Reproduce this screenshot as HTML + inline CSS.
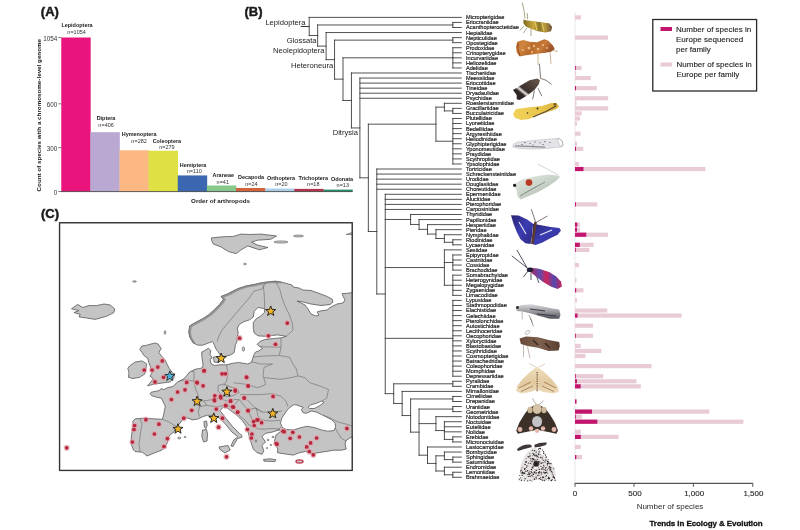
<!DOCTYPE html>
<html><head><meta charset="utf-8"><title>Lepidoptera genomes figure</title>
<style>
html,body{margin:0;padding:0;background:#fff;width:800px;height:530px;overflow:hidden}
svg{display:block;font-family:"Liberation Sans",Arial,sans-serif}
</style></head><body>
<svg width="800" height="530" viewBox="0 0 800 530">
<rect width="800" height="530" fill="#fff"/>

<text x="40.8" y="16.4" font-size="13" font-weight="bold" fill="#1a1a1a" stroke="#1a1a1a" stroke-width="0.45">(A)</text>
<rect x="61.25" y="37.5" width="29.43" height="154" fill="#e9147c"/>
<text x="77" y="26.9" font-size="5.45" font-weight="bold" text-anchor="middle" fill="#1a1a1a">Lepidoptera</text>
<text x="76.6" y="34.45" font-size="5.5" text-anchor="middle" fill="#333">n=1054</text>
<rect x="90.38" y="132.18" width="29.43" height="59.32" fill="#b9a8d2"/>
<text x="106" y="120.45" font-size="5.45" font-weight="bold" text-anchor="middle" fill="#1a1a1a">Diptera</text>
<text x="106.1" y="126.95" font-size="5.5" text-anchor="middle" fill="#333">n=406</text>
<rect x="119.5" y="150.3" width="29.43" height="41.2" fill="#fbb883"/>
<text x="139.1" y="135.9" font-size="5.45" font-weight="bold" text-anchor="middle" fill="#1a1a1a">Hymenoptera</text>
<text x="139.1" y="142.7" font-size="5.5" text-anchor="middle" fill="#333">n=282</text>
<rect x="148.62" y="150.74" width="29.43" height="40.76" fill="#dee043"/>
<text x="166.9" y="142.65" font-size="5.45" font-weight="bold" text-anchor="middle" fill="#1a1a1a">Coleoptera</text>
<text x="166.9" y="148.7" font-size="5.5" text-anchor="middle" fill="#333">n=279</text>
<rect x="177.75" y="175.43" width="29.43" height="16.07" fill="#3b67b1"/>
<text x="193.1" y="166.65" font-size="5.45" font-weight="bold" text-anchor="middle" fill="#1a1a1a">Hemiptera</text>
<text x="194.25" y="173.45" font-size="5.5" text-anchor="middle" fill="#333">n=110</text>
<rect x="206.88" y="185.51" width="29.43" height="5.99" fill="#86c98a"/>
<text x="223.3" y="176.65" font-size="5.45" font-weight="bold" text-anchor="middle" fill="#1a1a1a">Araneae</text>
<text x="222.8" y="183.85" font-size="5.5" text-anchor="middle" fill="#333">n=41</text>
<rect x="236" y="187.99" width="29.43" height="3.51" fill="#d1643c"/>
<text x="251" y="179.1" font-size="5.45" font-weight="bold" text-anchor="middle" fill="#1a1a1a">Decapoda</text>
<text x="251.4" y="185.7" font-size="5.5" text-anchor="middle" fill="#333">n=24</text>
<rect x="265.12" y="188.58" width="29.43" height="2.92" fill="#a9cde9"/>
<text x="281" y="180.4" font-size="5.45" font-weight="bold" text-anchor="middle" fill="#1a1a1a">Orthoptera</text>
<text x="281.4" y="186.25" font-size="5.5" text-anchor="middle" fill="#333">n=20</text>
<rect x="294.25" y="188.87" width="29.43" height="2.63" fill="#b3344f"/>
<text x="313.2" y="180.4" font-size="5.45" font-weight="bold" text-anchor="middle" fill="#1a1a1a">Trichoptera</text>
<text x="313.3" y="186.25" font-size="5.5" text-anchor="middle" fill="#333">n=18</text>
<rect x="323.38" y="189.6" width="29.43" height="1.9" fill="#22906a"/>
<text x="342" y="181.3" font-size="5.45" font-weight="bold" text-anchor="middle" fill="#1a1a1a">Odonata</text>
<text x="342.8" y="187.2" font-size="5.5" text-anchor="middle" fill="#333">n=13</text>
<path d="M61 191.6H352.6" stroke="#333" stroke-width="0.8"/>
<path d="M58.3 37.5H61.3" stroke="#444" stroke-width="0.7"/>
<text x="57.2" y="41" font-size="6.3" text-anchor="end" fill="#333">1054</text>
<path d="M58.3 103.83H61.3" stroke="#444" stroke-width="0.7"/>
<text x="57.2" y="107.33" font-size="6.3" text-anchor="end" fill="#333">600</text>
<path d="M58.3 147.67H61.3" stroke="#444" stroke-width="0.7"/>
<text x="57.2" y="151.17" font-size="6.3" text-anchor="end" fill="#333">300</text>
<path d="M58.3 191.5H61.3" stroke="#444" stroke-width="0.7"/>
<text x="57.2" y="195" font-size="6.3" text-anchor="end" fill="#333">0</text>
<text transform="translate(40.6 115.2) rotate(-90)" font-size="6.25" font-weight="bold" text-anchor="middle" fill="#1a1a1a">Count of species with a chromosome-level genome</text>
<text x="220.5" y="202.9" font-size="6.2" font-weight="bold" text-anchor="middle" fill="#1a1a1a">Order of arthropods</text>
<text x="244.5" y="16" font-size="13" font-weight="bold" fill="#1a1a1a" stroke="#1a1a1a" stroke-width="0.45">(B)</text>
<path d="M309.2 17.4H461.3 M452.85 22.45H461.3 M452.85 27.51H461.3 M452.85 22.45V27.51 M317.65 24.98H452.85 M326.1 32.56H461.3 M452.85 37.62H461.3 M452.85 42.67H461.3 M452.85 37.62V42.67 M334.55 40.14H452.85 M452.85 47.72H461.3 M452.85 52.78H461.3 M452.85 57.83H461.3 M452.85 62.89H461.3 M452.85 67.94H461.3 M452.85 47.72V67.94 M343 57.83H452.85 M351.45 72.99H461.3 M359.9 78.05H461.3 M359.9 83.1H461.3 M359.9 88.16H461.3 M359.9 93.21H461.3 M359.9 98.26H461.3 M444.4 103.32H461.3 M452.85 108.37H461.3 M452.85 113.43H461.3 M452.85 108.37V113.43 M444.4 110.9H452.85 M444.4 103.32V110.9 M435.95 107.11H444.4 M452.85 118.48H461.3 M452.85 123.53H461.3 M452.85 128.59H461.3 M452.85 133.64H461.3 M452.85 138.7H461.3 M452.85 143.75H461.3 M452.85 148.8H461.3 M452.85 153.86H461.3 M452.85 158.91H461.3 M452.85 163.97H461.3 M452.85 118.48V163.97 M435.95 141.22H452.85 M435.95 107.11V141.22 M368.35 124.17H435.95 M376.8 169.02H461.3 M376.8 174.07H461.3 M376.8 179.13H461.3 M376.8 184.18H461.3 M376.8 189.24H461.3 M385.25 194.29H461.3 M385.25 199.34H461.3 M385.25 204.4H461.3 M385.25 209.45H461.3 M410.6 214.51H461.3 M419.05 219.56H461.3 M427.5 224.61H461.3 M435.95 229.67H461.3 M444.4 234.72H461.3 M452.85 239.78H461.3 M452.85 244.83H461.3 M452.85 239.78V244.83 M444.4 242.3H452.85 M444.4 234.72V242.3 M435.95 238.51H444.4 M435.95 229.67V238.51 M427.5 234.09H435.95 M427.5 224.61V234.09 M419.05 229.35H427.5 M419.05 219.56V229.35 M410.6 224.46H419.05 M410.6 214.51V224.46 M385.25 219.48H410.6 M444.4 249.88H461.3 M452.85 254.94H461.3 M452.85 259.99H461.3 M452.85 265.05H461.3 M452.85 270.1H461.3 M452.85 254.94V270.1 M444.4 262.52H452.85 M452.85 275.15H461.3 M452.85 280.21H461.3 M452.85 285.26H461.3 M452.85 290.32H461.3 M452.85 295.37H461.3 M452.85 275.15V295.37 M444.4 285.26H452.85 M444.4 249.88V285.26 M385.25 267.57H444.4 M452.85 300.42H461.3 M452.85 305.48H461.3 M452.85 310.53H461.3 M452.85 315.59H461.3 M452.85 320.64H461.3 M452.85 325.69H461.3 M452.85 330.75H461.3 M452.85 335.8H461.3 M452.85 340.86H461.3 M452.85 345.91H461.3 M452.85 350.96H461.3 M452.85 356.02H461.3 M452.85 361.07H461.3 M452.85 366.13H461.3 M452.85 371.18H461.3 M452.85 376.23H461.3 M452.85 300.42V376.23 M385.25 338.33H452.85 M452.85 381.29H461.3 M452.85 386.34H461.3 M452.85 381.29V386.34 M393.7 383.81H452.85 M402.15 391.4H461.3 M452.85 396.45H461.3 M452.85 401.5H461.3 M452.85 396.45V401.5 M410.6 398.98H452.85 M452.85 406.56H461.3 M452.85 411.61H461.3 M452.85 406.56V411.61 M419.05 409.09H452.85 M435.95 416.67H461.3 M444.4 421.72H461.3 M444.4 426.77H461.3 M444.4 431.83H461.3 M452.85 436.88H461.3 M452.85 441.94H461.3 M452.85 436.88V441.94 M444.4 439.41H452.85 M444.4 421.72V439.41 M435.95 430.56H444.4 M435.95 416.67V430.56 M419.05 423.62H435.95 M427.5 446.99H461.3 M444.4 452.04H461.3 M452.85 457.1H461.3 M452.85 462.15H461.3 M452.85 457.1V462.15 M444.4 459.62H452.85 M444.4 452.04V459.62 M435.95 455.83H444.4 M444.4 467.21H461.3 M452.85 472.26H461.3 M452.85 477.31H461.3 M452.85 472.26V477.31 M444.4 474.79H452.85 M444.4 467.21V474.79 M435.95 471H444.4 M435.95 455.83V471 M427.5 463.42H435.95 M427.5 446.99V463.42 M419.05 455.2H427.5 M419.05 409.09V455.2 M410.6 432.14H419.05 M410.6 398.98V432.14 M402.15 415.56H410.6 M402.15 391.4V415.56 M393.7 403.48H402.15 M393.7 383.81V403.48 M385.25 393.65H393.7 M385.25 194.29V393.65 M376.8 293.97H385.25 M376.8 169.02V293.97 M368.35 231.49H376.8 M368.35 124.17V231.49 M359.9 177.83H368.35 M359.9 78.05V177.83 M351.45 127.94H359.9 M351.45 72.99V127.94 M343 100.47H351.45 M343 57.83V100.47 M334.55 79.15H343 M334.55 40.14V79.15 M326.1 59.65H334.55 M326.1 32.56V59.65 M317.65 46.1H326.1 M317.65 24.98V46.1 M309.2 35.54H317.65 M309.2 17.4V35.54 M301.2 26.47H309.2" stroke="#333" stroke-width="0.85" fill="none" stroke-linecap="square"/>
<text x="305.5" y="25.2" font-size="7.6" text-anchor="end" fill="#1a1a1a">Lepidoptera</text>
<text x="316.6" y="42.8" font-size="7.6" text-anchor="end" fill="#1a1a1a">Glossata</text>
<text x="324.6" y="52.6" font-size="7.6" text-anchor="end" fill="#1a1a1a">Neolepidoptera</text>
<text x="333.2" y="67.5" font-size="7.6" text-anchor="end" fill="#1a1a1a">Heteroneura</text>
<text x="358" y="135.4" font-size="7.6" text-anchor="end" fill="#1a1a1a">Ditrysia</text>
<path d="M301.2 26.5H309" stroke="#333" stroke-width="0.85"/>
<g font-size="5.6" fill="#1a1a1a" stroke="#1a1a1a" stroke-width="0.18"><text x="466" y="19.35">Micropterigidae</text>
<text x="466" y="24.4">Eriocraniidae</text>
<text x="466" y="29.46">Acanthopteroctetidae</text>
<text x="466" y="34.51">Hepialidae</text>
<text x="466" y="39.57">Nepticulidae</text>
<text x="466" y="44.62">Opostegidae</text>
<text x="466" y="49.67">Prodoxidae</text>
<text x="466" y="54.73">Crinopterygidae</text>
<text x="466" y="59.78">Incurvariidae</text>
<text x="466" y="64.84">Heliozelidae</text>
<text x="466" y="69.89">Adelidae</text>
<text x="466" y="74.94">Tischeriidae</text>
<text x="466" y="80">Meessiidae</text>
<text x="466" y="85.05">Eriocottidae</text>
<text x="466" y="90.11">Tineidae</text>
<text x="466" y="95.16">Dryadaulidae</text>
<text x="466" y="100.21">Psychidae</text>
<text x="466" y="105.27">Roeslerstammiidae</text>
<text x="466" y="110.32">Gracillariidae</text>
<text x="466" y="115.38">Bucculatricidae</text>
<text x="466" y="120.43">Plutellidae</text>
<text x="466" y="125.48">Lyonetiidae</text>
<text x="466" y="130.54">Bedelliidae</text>
<text x="466" y="135.59">Argyresthiidae</text>
<text x="466" y="140.65">Heliodinidae</text>
<text x="466" y="145.7">Glyphipterigidae</text>
<text x="466" y="150.75">Yponomeutidae</text>
<text x="466" y="155.81">Praydidae</text>
<text x="466" y="160.86">Scythropiidae</text>
<text x="466" y="165.92">Ypsolophidae</text>
<text x="466" y="170.97">Tortricidae</text>
<text x="466" y="176.02">Schreckensteiniidae</text>
<text x="466" y="181.08">Urodidae</text>
<text x="466" y="186.13">Douglasiidae</text>
<text x="466" y="191.19">Choreutidae</text>
<text x="466" y="196.24">Epermeniidae</text>
<text x="466" y="201.29">Alucitidae</text>
<text x="466" y="206.35">Pterophoridae</text>
<text x="466" y="211.4">Carposinidae</text>
<text x="466" y="216.46">Thyrididae</text>
<text x="466" y="221.51">Papilionidae</text>
<text x="466" y="226.56">Hesperiidae</text>
<text x="466" y="231.62">Pieridae</text>
<text x="466" y="236.67">Nymphalidae</text>
<text x="466" y="241.73">Riodinidae</text>
<text x="466" y="246.78">Lycaenidae</text>
<text x="466" y="251.83">Sesiidae</text>
<text x="466" y="256.89">Epipyropidae</text>
<text x="466" y="261.94">Castniidae</text>
<text x="466" y="267">Cossidae</text>
<text x="466" y="272.05">Brachodidae</text>
<text x="466" y="277.1">Somabrachyidae</text>
<text x="466" y="282.16">Heterogynidae</text>
<text x="466" y="287.21">Megalopygidae</text>
<text x="466" y="292.27">Zygaenidae</text>
<text x="466" y="297.32">Limacodidae</text>
<text x="466" y="302.37">Lypusidae</text>
<text x="466" y="307.43">Stathmopodidae</text>
<text x="466" y="312.48">Elachistidae</text>
<text x="466" y="317.54">Gelechiidae</text>
<text x="466" y="322.59">Pterolonchidae</text>
<text x="466" y="327.64">Autostichidae</text>
<text x="466" y="332.7">Lecithoceridae</text>
<text x="466" y="337.75">Oecophoridae</text>
<text x="466" y="342.81">Xyloryctidae</text>
<text x="466" y="347.86">Blastobasidae</text>
<text x="466" y="352.91">Scythrididae</text>
<text x="466" y="357.97">Cosmopterigidae</text>
<text x="466" y="363.02">Batrachedridae</text>
<text x="466" y="368.08">Coleophoridae</text>
<text x="466" y="373.13">Momphidae</text>
<text x="466" y="378.18">Depressariidae</text>
<text x="466" y="383.24">Pyralidae</text>
<text x="466" y="388.29">Crambidae</text>
<text x="466" y="393.35">Mimallonidae</text>
<text x="466" y="398.4">Cimeliidae</text>
<text x="466" y="403.45">Drepanidae</text>
<text x="466" y="408.51">Uraniidae</text>
<text x="466" y="413.56">Geometridae</text>
<text x="466" y="418.62">Notodontidae</text>
<text x="466" y="423.67">Noctuidae</text>
<text x="466" y="428.72">Euteliidae</text>
<text x="466" y="433.78">Nolidae</text>
<text x="466" y="438.83">Erebidae</text>
<text x="466" y="443.89">Micronoctuidae</text>
<text x="466" y="448.94">Lasiocampidae</text>
<text x="466" y="453.99">Bombycidae</text>
<text x="466" y="459.05">Sphingidae</text>
<text x="466" y="464.1">Saturniidae</text>
<text x="466" y="469.16">Endromidae</text>
<text x="466" y="474.21">Lemoniidae</text>
<text x="466" y="479.26">Brahmaeidae</text></g>
<path d="M575 12V483" stroke="#d8d8d8" stroke-width="0.6"/>
<rect x="575" y="15.3" width="6" height="4.2" fill="#e9cbd7"/>
<rect x="575" y="35.52" width="33" height="4.2" fill="#e9cbd7"/>
<rect x="575" y="65.84" width="6.6" height="4.2" fill="#e9cbd7"/>
<rect x="575" y="65.84" width="0.8" height="4.2" fill="#c2166e"/>
<rect x="575" y="75.95" width="15.8" height="4.2" fill="#e9cbd7"/>
<rect x="575" y="86.06" width="21.8" height="4.2" fill="#e9cbd7"/>
<rect x="575" y="86.06" width="1" height="4.2" fill="#c2166e"/>
<rect x="575" y="96.16" width="33.2" height="4.2" fill="#e9cbd7"/>
<rect x="575" y="106.27" width="33.2" height="4.2" fill="#e9cbd7"/>
<rect x="575" y="111.33" width="6.7" height="4.2" fill="#e9cbd7"/>
<rect x="575" y="116.38" width="5" height="4.2" fill="#e9cbd7"/>
<rect x="575" y="121.43" width="2" height="4.2" fill="#e9cbd7"/>
<rect x="575" y="131.54" width="5.6" height="4.2" fill="#e9cbd7"/>
<rect x="575" y="141.65" width="2" height="4.2" fill="#e9cbd7"/>
<rect x="575" y="146.7" width="8.3" height="4.2" fill="#e9cbd7"/>
<rect x="575" y="146.7" width="1" height="4.2" fill="#c2166e"/>
<rect x="575" y="161.87" width="4" height="4.2" fill="#e9cbd7"/>
<rect x="575" y="166.92" width="130.4" height="4.2" fill="#e9cbd7"/>
<rect x="575" y="166.92" width="8.5" height="4.2" fill="#c2166e"/>
<rect x="575" y="202.3" width="22.3" height="4.2" fill="#e9cbd7"/>
<rect x="575" y="202.3" width="1" height="4.2" fill="#c2166e"/>
<rect x="575" y="222.51" width="5" height="4.2" fill="#e9cbd7"/>
<rect x="575" y="222.51" width="2.3" height="4.2" fill="#c2166e"/>
<rect x="575" y="227.57" width="5" height="4.2" fill="#e9cbd7"/>
<rect x="575" y="227.57" width="2" height="4.2" fill="#c2166e"/>
<rect x="575" y="232.62" width="32.9" height="4.2" fill="#e9cbd7"/>
<rect x="575" y="232.62" width="11.3" height="4.2" fill="#c2166e"/>
<rect x="575" y="242.73" width="18.6" height="4.2" fill="#e9cbd7"/>
<rect x="575" y="242.73" width="4.8" height="4.2" fill="#c2166e"/>
<rect x="575" y="247.78" width="14.5" height="4.2" fill="#e9cbd7"/>
<rect x="575" y="247.78" width="0.8" height="4.2" fill="#c2166e"/>
<rect x="575" y="262.95" width="4" height="4.2" fill="#e9cbd7"/>
<rect x="575" y="278.11" width="1.5" height="4.2" fill="#e9cbd7"/>
<rect x="575" y="288.22" width="8.5" height="4.2" fill="#e9cbd7"/>
<rect x="575" y="288.22" width="1.2" height="4.2" fill="#c2166e"/>
<rect x="575" y="298.32" width="2" height="4.2" fill="#e9cbd7"/>
<rect x="575" y="308.43" width="32.3" height="4.2" fill="#e9cbd7"/>
<rect x="575" y="313.49" width="106.6" height="4.2" fill="#e9cbd7"/>
<rect x="575" y="313.49" width="2.5" height="4.2" fill="#c2166e"/>
<rect x="575" y="323.59" width="18" height="4.2" fill="#e9cbd7"/>
<rect x="575" y="333.7" width="18" height="4.2" fill="#e9cbd7"/>
<rect x="575" y="333.7" width="0.8" height="4.2" fill="#c2166e"/>
<rect x="575" y="343.81" width="5.7" height="4.2" fill="#e9cbd7"/>
<rect x="575" y="348.86" width="26.4" height="4.2" fill="#e9cbd7"/>
<rect x="575" y="353.92" width="10.4" height="4.2" fill="#e9cbd7"/>
<rect x="575" y="364.03" width="76.5" height="4.2" fill="#e9cbd7"/>
<rect x="575" y="374.13" width="28.3" height="4.2" fill="#e9cbd7"/>
<rect x="575" y="374.13" width="0.8" height="4.2" fill="#c2166e"/>
<rect x="575" y="379.19" width="61.5" height="4.2" fill="#e9cbd7"/>
<rect x="575" y="379.19" width="2" height="4.2" fill="#c2166e"/>
<rect x="575" y="384.24" width="65.8" height="4.2" fill="#e9cbd7"/>
<rect x="575" y="384.24" width="5.7" height="4.2" fill="#c2166e"/>
<rect x="575" y="399.4" width="1.5" height="4.2" fill="#e9cbd7"/>
<rect x="575" y="399.4" width="1.5" height="4.2" fill="#c2166e"/>
<rect x="575" y="409.51" width="134.4" height="4.2" fill="#e9cbd7"/>
<rect x="575" y="409.51" width="17" height="4.2" fill="#c2166e"/>
<rect x="575" y="414.57" width="6.9" height="4.2" fill="#e9cbd7"/>
<rect x="575" y="414.57" width="0.8" height="4.2" fill="#c2166e"/>
<rect x="575" y="419.62" width="168.4" height="4.2" fill="#e9cbd7"/>
<rect x="575" y="419.62" width="22.3" height="4.2" fill="#c2166e"/>
<rect x="575" y="429.73" width="5.7" height="4.2" fill="#e9cbd7"/>
<rect x="575" y="434.78" width="43.6" height="4.2" fill="#e9cbd7"/>
<rect x="575" y="434.78" width="5.8" height="4.2" fill="#c2166e"/>
<rect x="575" y="444.89" width="5.7" height="4.2" fill="#e9cbd7"/>
<rect x="575" y="455" width="7" height="4.2" fill="#e9cbd7"/>
<rect x="575" y="455" width="1.3" height="4.2" fill="#c2166e"/>
<rect x="575" y="70.89" width="1.2" height="4.2" fill="#e9cbd7"/>
<rect x="575" y="101.22" width="1.5" height="4.2" fill="#e9cbd7"/>
<path d="M575 483.4H752.8" stroke="#555" stroke-width="1.2"/>
<path d="M575 483V486.8" stroke="#555" stroke-width="1"/>
<text x="575" y="496.3" font-size="8" text-anchor="middle" fill="#222" stroke="#222" stroke-width="0.1">0</text>
<path d="M634 483V486.8" stroke="#555" stroke-width="1"/>
<text x="635" y="496.3" font-size="8" text-anchor="middle" fill="#222" stroke="#222" stroke-width="0.1">500</text>
<path d="M693.4 483V486.8" stroke="#555" stroke-width="1"/>
<text x="694.2" y="496.3" font-size="8" text-anchor="middle" fill="#222" stroke="#222" stroke-width="0.1">1,000</text>
<path d="M752.8 483V486.8" stroke="#555" stroke-width="1"/>
<text x="753.4" y="496.3" font-size="8" text-anchor="middle" fill="#222" stroke="#222" stroke-width="0.1">1,500</text>
<text x="670" y="509.4" font-size="8" text-anchor="middle" fill="#2a2a2a">Number of species</text>
<rect x="652.8" y="19.5" width="103.8" height="71.5" fill="#fff" stroke="#2a2a2a" stroke-width="1.3"/>
<rect x="660.5" y="27" width="11.5" height="4" fill="#c2166e"/>
<rect x="660.5" y="62.5" width="11.5" height="4" fill="#e9cbd7"/>
<g font-size="8" fill="#1e1e1e" stroke="#1e1e1e" stroke-width="0.12"><text x="676" y="31.6">Number of species in</text><text x="676" y="41.6">Europe sequenced</text><text x="676" y="51.6">per family</text><text x="676.5" y="66.6">Number of species in</text><text x="676.5" y="76.6">Europe per family</text></g>
<text x="41" y="218.3" font-size="13" font-weight="bold" fill="#1a1a1a" stroke="#1a1a1a" stroke-width="0.45">(C)</text>
<rect x="59.6" y="222.8" width="292.6" height="247.6" fill="#c4c4c4"/>
<g stroke="#6a6a6a" stroke-width="0.6" fill="none" stroke-linejoin="round"><polyline points="266,282.5 262,289 254,291 250,297 244,304 238,311 232,318 227,324 222,330 219,336 217,341.5"/><polyline points="263,285 264,292 264.5,300 264.6,308.5"/><polyline points="276,282 280,290 282,298 285,306 289,314 292,322 293,330 286.3,336.3"/><polyline points="281,337.7 281,347 279.3,355.5 289.5,357.2 292.9,364 296.3,369 298,375.9"/><polyline points="259,346.5 268,347 281,347"/><polyline points="253,357 264,356 279.3,355.5"/><polyline points="250.4,361.4 260.6,364 272.5,364"/><polyline points="272.5,364 264,367.4 263.1,375.9 265.7,384.4 262.3,386.1"/><polyline points="264,377.6 281,379.3 291.2,377.6 298,375.9"/><polyline points="298,375.9 304.8,377.6 309.8,382.7 320,386.1 328.5,389.5 326.8,398 321.7,401.4"/><polyline points="233.4,382.7 247,384.4 257.2,387.8 262.3,386.1"/><polyline points="240.2,394.6 255.5,394.6 258.9,394.6 272.5,393.7 281,396.3 286.1,401.4 287.8,406.5"/><polyline points="247,399.7 255.5,408.2 262,412 272,412.5 282,411"/><polyline points="226.5,364.2 227.9,374.1 226.5,381.2 223.6,385.5"/><polyline points="218,385.5 223.6,384 230.7,386.9 236.4,388.3 239.2,392.5 233.5,395.4 227.9,396.8 222.2,395.4 218,391.1 218,385.5"/><polyline points="203.8,401 212.3,399.6 219.4,398.2 226.5,401 233.5,399.6 239.2,399.6"/><polyline points="206.7,405.3 216.6,406.7 225.1,405.3 232,407 239.2,399.6"/><polyline points="194,381.2 195.4,388.3 198.2,395.4 199.6,401"/><polyline points="178.4,381.2 185.5,379.8 194,381.2"/><polyline points="190.5,371.5 194,371.3 194,377 194,381.2"/><polyline points="195.4,399.6 203.8,401 206.7,405.3 199.6,406.7 195.4,403.8 195.4,399.6"/><polyline points="199.6,406.7 198.2,412.3 199.6,416.6"/><polyline points="239.2,399.6 244.9,406.7 247.7,409.5 256.2,408.1 262,412"/><polyline points="247.7,409.5 252,419.4 254,426 258,429 265,429 272,428.5 279.5,429"/><polyline points="256.2,408.1 258,416 262,420 270,421 280,420.5"/><polyline points="244,419 248,424 252,426.5"/><polyline points="237,413 241,417 244,419"/><polyline points="276,431 279,429 281,427"/><polyline points="140,419 142,424 141,430 140,437 139,444 140,451.5"/><polyline points="162.3,419.3 168,421.5 174.1,425.1 179.8,429.3"/><polyline points="335,427.7 338,433 341,438 346,441"/><polyline points="323,415 330,418 338,422 346,424 352,426"/></g>
<polygon points="59.4,470.6 59.4,222.6 352.4,222.6 352.4,292.7 350.9,292.7 347,293.4 342.2,293.6 342.5,295 345,300 343,303 337,304 331,307 327,310 320,311 317,312 319,315 316,316 311,314 308,309 305,305 297,301 303,302 311,304 321,305.5 330,304.5 333,302 332,299 326,296 318,293 311,290.5 303,290 299,288 293,287 292,285 285,283 280,281.9 275.1,281.2 267.2,281.9 259.3,283.2 254,284.5 246,285.9 238.1,288.5 232.8,291.1 227.6,293.8 221,296.4 223.6,299.1 219.6,304.3 214.3,309.6 208.9,314.5 202.1,319 195.4,322.4 189.7,325.8 188.6,331.5 189.7,337.1 193.1,342.8 197.6,345.1 202.5,345.3 208.5,343 212.3,341.5 213,342.3 214.5,345.3 216,349 218.3,352 220.5,355.5 225,356.5 230.3,355 234,352.8 234.8,349 235.5,344.5 237,341.5 237.3,336.8 238.2,333 237.3,328.3 239.2,324.5 243.9,321.7 249.5,319.8 253.3,317 254.2,311.3 258,307.5 264.6,308.5 264.6,312.3 260.8,316 256.1,318.9 253.3,322.6 253.3,328.3 254.2,333 258,335.8 264.6,336.3 272.2,335.4 277.8,334.9 283.5,335.8 286.3,336.3 281.6,337.7 272.2,338.7 264.6,339.6 259.9,341.5 257.1,344.3 259,346 262.5,348.5 258.5,351 255.6,352 254.1,354.3 252.6,358.9 251.3,362.5 247.5,364 243.8,363.3 238.5,362.5 232.5,363.3 226.5,364.8 219.8,364.8 214.5,365.5 211,363.5 210,359.5 212.3,358 210,354.3 210.8,350.5 208.5,348.3 204.8,350.5 201.8,352 201.8,356.5 202.5,361 203,364.5 202.5,367.8 199.5,368.5 195,369.3 190.9,371.5 189.5,372 186.4,376 183.4,379.1 177.4,382.1 172.8,386.6 168,387.5 163.8,389.6 161,388.5 159.5,390.5 156,391.2 151,392.3 150.2,393.8 151.7,395.7 156.7,397.2 161.5,398.2 162.3,400.2 165.3,406.2 164.6,409.7 163.8,413.8 163.3,416 162.3,419.3 153.3,418.8 144.2,418.2 135.2,418.8 132.9,421 133,424.3 132.4,429 131,440.8 131.5,445 133.5,450 135,451.5 142.5,452.3 147,456 156,452.3 162,450 165,446.5 167.5,442.5 168,438 170.2,434.6 173.6,432.3 175.5,428.5 178.5,425 181.6,421 186.1,417.6 192.9,419.9 198.5,418.8 203.1,416.5 207.5,415.3 213.6,415.3 219.6,418.3 225.7,424.3 231.7,431.9 237.7,436.4 236,438.5 234,439.5 232.3,443 231,446 233,446.5 235,443 237.5,438.5 241.9,437.3 242,435.5 239.3,433.3 232.3,426.3 225.3,417.5 220,410.5 223.5,407 226.5,407.5 230.5,410.5 237.5,415.8 242.8,421 246.3,426.3 248,431.5 249.8,438.5 251.5,443.8 253.3,449 256.8,452.5 262,454.3 263.8,450.8 262,445.5 265.5,442 262,436.8 265.5,433.3 270.8,432.4 274.3,431.5 279.5,429.8 280.5,431.5 276,435 274.3,442 277.8,449 277.5,452.7 284.8,453.9 293.4,455.1 299.5,452.7 305.7,451.4 311.8,453.9 318,452.7 326.5,451.4 333.9,450.2 341.3,450.2 346.2,449 345,444.1 346.2,440.4 349.8,438 352.4,436.7 352.4,470.6" fill="#fff" stroke="#585858" stroke-width="0.8" stroke-linejoin="round"/>
<polygon points="293.4,404.8 288.5,408.5 284.8,413.4 281.7,418.3 280.5,423.2 282.4,427.5 286,429.4 293.4,430 299.5,428.1 306.9,426.3 314.3,427.5 321.6,430 327.8,431.2 333.9,430.6 335.7,426.9 335.1,423.2 331.4,419.5 326.5,417.1 321.6,414.6 316.7,412.2 311.8,411 305.7,413.4 302.6,412.2 301.4,409.7 303.2,407.3 299.5,406 295.9,404.8" fill="#fff" stroke="#585858" stroke-width="0.8" stroke-linejoin="round"/>
<polygon points="308.1,407.3 310.6,404.8 315.5,403.6 321.6,401.1 324.1,402.4 319.2,406 314.3,408.5 309.4,408.5" fill="#fff" stroke="#585858" stroke-width="0.8" stroke-linejoin="round"/>
<polyline points="280,281.9 275.1,281.2 267.2,281.9 259.3,283.2 254,284.5 246,285.9 238.1,288.5 232.8,291.1 227.6,293.8 221,296.4 223.6,299.1 219.6,304.3 214.3,309.6 208.9,314.5 202.1,319 195.4,322.4 189.7,325.8 188.6,331.5 189.7,337.1 193.1,342.8" fill="none" stroke="#707070" stroke-width="2.2" stroke-linejoin="round" opacity="0.55" transform="translate(1.2 0.6)"/>
<polygon points="139.7,349.5 142,346 146.5,345.3 151,344 155.5,343 158,344 161.2,348.5 158.9,352.4 161.2,355.8 164.6,359.2 166.9,363.8 169.1,368.3 172.5,372.8 174.8,373.9 173.6,378.5 170.2,381.9 162.3,383 154.4,384.1 147.6,385.8 151,381.9 153.3,378.5 149.9,376.2 152.1,372.8 151,368.3 148.8,362.6 147.6,358.1 144.2,355.8 142,352.4" fill="#c4c4c4" stroke="#585858" stroke-width="0.8" stroke-linejoin="round"/>
<polygon points="129.5,366 135.2,362.1 142,360.9 146.5,363.8 145.9,369.4 144.8,373.9 139.7,377.3 132.9,378.5 128.4,377.3 129,372.8 127.8,368.3" fill="#c4c4c4" stroke="#585858" stroke-width="0.8" stroke-linejoin="round"/>
<polygon points="71.5,308.75 77.75,304.4 82.75,307.5 89,305.6 96.5,305.6 104,304 110.25,305 114.6,308.75 114,312.5 106.5,316.25 95.25,319.4 86.5,318 79,316.9 80.25,314.4 74,312.5 79,310.6" fill="#c4c4c4" stroke="#585858" stroke-width="0.8" stroke-linejoin="round"/>
<polygon points="211.5,237.9 222.9,236.8 233.5,236.4 241.1,234.1 249.7,234.5 261.2,234.1 276.5,236 270.7,239.3 257.4,240.2 251.6,242.1 257.4,245 267.9,247.5 259.3,249.8 247.8,245.9 241.1,249.8 236.3,253.6 228.7,251.7 221,246.9 213.4,244 211.5,240.2" fill="#c4c4c4" stroke="#585858" stroke-width="0.8" stroke-linejoin="round"/>
<polygon points="204,421.5 206.5,421 207.2,425 206,428.5 204.3,427" fill="#c4c4c4" stroke="#585858" stroke-width="0.8" stroke-linejoin="round"/>
<polygon points="202.5,430 206.5,429.5 207.5,434 207,441 203.5,442 201.8,436" fill="#c4c4c4" stroke="#585858" stroke-width="0.8" stroke-linejoin="round"/>
<polygon points="219,447 228,445.5 230.25,450 225,453 219.75,449.25" fill="#c4c4c4" stroke="#585858" stroke-width="0.8" stroke-linejoin="round"/>
<polygon points="263.5,459.5 270,458.8 276,459.8 275,461.6 268,461.3 264,461.2" fill="#c4c4c4" stroke="#585858" stroke-width="0.8" stroke-linejoin="round"/>
<polygon points="213.5,357 217.5,356.5 219,359.5 217.5,362.5 214,362" fill="#c4c4c4" stroke="#585858" stroke-width="0.8" stroke-linejoin="round"/>
<g fill="#c4c4c4" stroke="#5e5e5e" stroke-width="0.6"><ellipse cx="298.5" cy="236" rx="5" ry="1"/><ellipse cx="281" cy="242" rx="7" ry="1.1"/><ellipse cx="245" cy="264" rx="1.5" ry="0.8"/><ellipse cx="134.5" cy="281.5" rx="2" ry="0.7"/><ellipse cx="243.4" cy="349" rx="1.2" ry="2.2"/><ellipse cx="179.3" cy="438" rx="1.6" ry="1"/><ellipse cx="185" cy="437" rx="1" ry="0.7"/><ellipse cx="165" cy="332.5" rx="0.8" ry="2"/><ellipse cx="268" cy="440" rx="1" ry="0.8"/><ellipse cx="271" cy="445" rx="0.9" ry="0.7"/><ellipse cx="267" cy="448" rx="0.8" ry="0.6"/><ellipse cx="273" cy="437" rx="1.2" ry="0.7"/><ellipse cx="256" cy="441" rx="0.8" ry="1.2"/><path d="M346 234.5L352 232.6V234.5Z"/></g>
<ellipse cx="299.5" cy="461.5" rx="3.6" ry="1.6" fill="#c4c4c4" stroke="#c0304a" stroke-width="1.2"/>
<g fill="#e0a2ac" opacity="0.7"><circle cx="162.3" cy="360.9" r="3.1"/><circle cx="157.8" cy="367.1" r="3.1"/><circle cx="152.1" cy="370" r="3.1"/><circle cx="144.2" cy="370" r="3.1"/><circle cx="163.5" cy="377.3" r="3.1"/><circle cx="155" cy="381.9" r="3.1"/><circle cx="186.7" cy="382.4" r="3.1"/><circle cx="196.8" cy="382.4" r="3.1"/><circle cx="203.1" cy="385.8" r="3.1"/><circle cx="185" cy="389.8" r="3.1"/><circle cx="177.6" cy="392" r="3.1"/><circle cx="204.2" cy="370.5" r="3.1"/><circle cx="204" cy="370.9" r="3.1"/><circle cx="222.1" cy="373.8" r="3.1"/><circle cx="225.5" cy="373.8" r="3.1"/><circle cx="246.5" cy="377.1" r="3.1"/><circle cx="197.3" cy="382.8" r="3.1"/><circle cx="248.2" cy="386" r="3.1"/><circle cx="235.2" cy="390.2" r="3.1"/><circle cx="214.8" cy="395.8" r="3.1"/><circle cx="220.5" cy="396.4" r="3.1"/><circle cx="214.2" cy="399.8" r="3.1"/><circle cx="244.2" cy="398.1" r="3.1"/><circle cx="230.6" cy="400.9" r="3.1"/><circle cx="225.5" cy="405.4" r="3.1"/><circle cx="233.5" cy="407.1" r="3.1"/><circle cx="273.1" cy="396.4" r="3.1"/><circle cx="214.6" cy="400.7" r="3.1"/><circle cx="220.8" cy="397.8" r="3.1"/><circle cx="230.5" cy="401.2" r="3.1"/><circle cx="225.9" cy="405.7" r="3.1"/><circle cx="232.7" cy="406.9" r="3.1"/><circle cx="216.3" cy="409.1" r="3.1"/><circle cx="237.8" cy="412" r="3.1"/><circle cx="248" cy="410.3" r="3.1"/><circle cx="222.5" cy="418.2" r="3.1"/><circle cx="253.6" cy="421.6" r="3.1"/><circle cx="257" cy="419.9" r="3.1"/><circle cx="261.6" cy="422.7" r="3.1"/><circle cx="254.2" cy="425.5" r="3.1"/><circle cx="247.4" cy="429.5" r="3.1"/><circle cx="251.9" cy="434" r="3.1"/><circle cx="251.4" cy="438" r="3.1"/><circle cx="218.6" cy="427.2" r="3.1"/><circle cx="283.1" cy="431.2" r="3.1"/><circle cx="276.3" cy="443.6" r="3.1"/><circle cx="171.4" cy="399.5" r="3.1"/><circle cx="191.7" cy="410.3" r="3.1"/><circle cx="183.8" cy="418.2" r="3.1"/><circle cx="145.9" cy="419.7" r="3.1"/><circle cx="134.6" cy="425.5" r="3.1"/><circle cx="134" cy="429.5" r="3.1"/><circle cx="158.9" cy="424.2" r="3.1"/><circle cx="154.4" cy="434" r="3.1"/><circle cx="167.4" cy="438.6" r="3.1"/><circle cx="164" cy="446.5" r="3.1"/><circle cx="132.4" cy="442" r="3.1"/><circle cx="284.2" cy="431.7" r="3.1"/><circle cx="292.8" cy="432.3" r="3.1"/><circle cx="290.2" cy="438.3" r="3.1"/><circle cx="299.4" cy="437" r="3.1"/><circle cx="316.6" cy="438" r="3.1"/><circle cx="310.6" cy="442.9" r="3.1"/><circle cx="306.7" cy="446.9" r="3.1"/><circle cx="309.3" cy="451.5" r="3.1"/><circle cx="313.3" cy="454.8" r="3.1"/><circle cx="277" cy="444.2" r="3.1"/><circle cx="346.9" cy="428.4" r="3.1"/><circle cx="287.3" cy="323.1" r="3.1"/><circle cx="268.4" cy="335.8" r="3.1"/><circle cx="275.5" cy="344.3" r="3.1"/><circle cx="239.6" cy="338.2" r="3.1"/><circle cx="246.6" cy="377.5" r="3.1"/><circle cx="248.1" cy="385.8" r="3.1"/><circle cx="235.3" cy="391.1" r="3.1"/><circle cx="244.3" cy="397.9" r="3.1"/><circle cx="248.1" cy="410.8" r="3.1"/><circle cx="237.5" cy="412.3" r="3.1"/><circle cx="66.7" cy="447.8" r="3.1"/><circle cx="226.5" cy="456.8" r="3.1"/><circle cx="258" cy="419.8" r="3.1"/></g>
<g fill="#b8283c"><circle cx="162.3" cy="360.9" r="1.85"/><circle cx="157.8" cy="367.1" r="1.85"/><circle cx="152.1" cy="370" r="1.85"/><circle cx="144.2" cy="370" r="1.85"/><circle cx="163.5" cy="377.3" r="1.85"/><circle cx="155" cy="381.9" r="1.85"/><circle cx="186.7" cy="382.4" r="1.85"/><circle cx="196.8" cy="382.4" r="1.85"/><circle cx="203.1" cy="385.8" r="1.85"/><circle cx="185" cy="389.8" r="1.85"/><circle cx="177.6" cy="392" r="1.85"/><circle cx="204.2" cy="370.5" r="1.85"/><circle cx="204" cy="370.9" r="1.85"/><circle cx="222.1" cy="373.8" r="1.85"/><circle cx="225.5" cy="373.8" r="1.85"/><circle cx="246.5" cy="377.1" r="1.85"/><circle cx="197.3" cy="382.8" r="1.85"/><circle cx="248.2" cy="386" r="1.85"/><circle cx="235.2" cy="390.2" r="1.85"/><circle cx="214.8" cy="395.8" r="1.85"/><circle cx="220.5" cy="396.4" r="1.85"/><circle cx="214.2" cy="399.8" r="1.85"/><circle cx="244.2" cy="398.1" r="1.85"/><circle cx="230.6" cy="400.9" r="1.85"/><circle cx="225.5" cy="405.4" r="1.85"/><circle cx="233.5" cy="407.1" r="1.85"/><circle cx="273.1" cy="396.4" r="1.85"/><circle cx="214.6" cy="400.7" r="1.85"/><circle cx="220.8" cy="397.8" r="1.85"/><circle cx="230.5" cy="401.2" r="1.85"/><circle cx="225.9" cy="405.7" r="1.85"/><circle cx="232.7" cy="406.9" r="1.85"/><circle cx="216.3" cy="409.1" r="1.85"/><circle cx="237.8" cy="412" r="1.85"/><circle cx="248" cy="410.3" r="1.85"/><circle cx="222.5" cy="418.2" r="1.85"/><circle cx="253.6" cy="421.6" r="1.85"/><circle cx="257" cy="419.9" r="1.85"/><circle cx="261.6" cy="422.7" r="1.85"/><circle cx="254.2" cy="425.5" r="1.85"/><circle cx="247.4" cy="429.5" r="1.85"/><circle cx="251.9" cy="434" r="1.85"/><circle cx="251.4" cy="438" r="1.85"/><circle cx="218.6" cy="427.2" r="1.85"/><circle cx="283.1" cy="431.2" r="1.85"/><circle cx="276.3" cy="443.6" r="1.85"/><circle cx="171.4" cy="399.5" r="1.85"/><circle cx="191.7" cy="410.3" r="1.85"/><circle cx="183.8" cy="418.2" r="1.85"/><circle cx="145.9" cy="419.7" r="1.85"/><circle cx="134.6" cy="425.5" r="1.85"/><circle cx="134" cy="429.5" r="1.85"/><circle cx="158.9" cy="424.2" r="1.85"/><circle cx="154.4" cy="434" r="1.85"/><circle cx="167.4" cy="438.6" r="1.85"/><circle cx="164" cy="446.5" r="1.85"/><circle cx="132.4" cy="442" r="1.85"/><circle cx="284.2" cy="431.7" r="1.85"/><circle cx="292.8" cy="432.3" r="1.85"/><circle cx="290.2" cy="438.3" r="1.85"/><circle cx="299.4" cy="437" r="1.85"/><circle cx="316.6" cy="438" r="1.85"/><circle cx="310.6" cy="442.9" r="1.85"/><circle cx="306.7" cy="446.9" r="1.85"/><circle cx="309.3" cy="451.5" r="1.85"/><circle cx="313.3" cy="454.8" r="1.85"/><circle cx="277" cy="444.2" r="1.85"/><circle cx="346.9" cy="428.4" r="1.85"/><circle cx="287.3" cy="323.1" r="1.85"/><circle cx="268.4" cy="335.8" r="1.85"/><circle cx="275.5" cy="344.3" r="1.85"/><circle cx="239.6" cy="338.2" r="1.85"/><circle cx="246.6" cy="377.5" r="1.85"/><circle cx="248.1" cy="385.8" r="1.85"/><circle cx="235.3" cy="391.1" r="1.85"/><circle cx="244.3" cy="397.9" r="1.85"/><circle cx="248.1" cy="410.8" r="1.85"/><circle cx="237.5" cy="412.3" r="1.85"/><circle cx="66.7" cy="447.8" r="1.85"/><circle cx="226.5" cy="456.8" r="1.85"/><circle cx="258" cy="419.8" r="1.85"/></g>
<g fill="#f2b52a" stroke="#1a1a1a" stroke-width="0.9" stroke-linejoin="round"><polygon points="270.7,305.9 271.99,309.42 275.74,309.56 272.79,311.88 273.82,315.49 270.7,313.4 267.58,315.49 268.61,311.88 265.66,309.56 269.41,309.42"/><polygon points="221.2,353 222.49,356.52 226.24,356.66 223.29,358.98 224.32,362.59 221.2,360.5 218.08,362.59 219.11,358.98 216.16,356.66 219.91,356.52"/><polygon points="226.9,386.6 228.19,390.12 231.94,390.26 228.99,392.58 230.02,396.19 226.9,394.1 223.78,396.19 224.81,392.58 221.86,390.26 225.61,390.12"/><polygon points="197.1,396.1 198.39,399.62 202.14,399.76 199.19,402.08 200.22,405.69 197.1,403.6 193.98,405.69 195.01,402.08 192.06,399.76 195.81,399.62"/><polygon points="272.8,408.4 274.09,411.92 277.84,412.06 274.89,414.38 275.92,417.99 272.8,415.9 269.68,417.99 270.71,414.38 267.76,412.06 271.51,411.92"/><polygon points="213.8,412.9 215.09,416.42 218.84,416.56 215.89,418.88 216.92,422.49 213.8,420.4 210.68,422.49 211.71,418.88 208.76,416.56 212.51,416.42"/><polygon points="178,423.7 179.29,427.22 183.04,427.36 180.09,429.68 181.12,433.29 178,431.2 174.88,433.29 175.91,429.68 172.96,427.36 176.71,427.22"/></g>
<polygon points="169.8,370.9 171.09,374.42 174.84,374.56 171.89,376.88 172.92,380.49 169.8,378.4 166.68,380.49 167.71,376.88 164.76,374.56 168.51,374.42" fill="#4db6e0" stroke="#1a1a1a" stroke-width="0.8" stroke-linejoin="round"/>
<rect x="59.6" y="222.8" width="292.6" height="247.6" fill="none" stroke="#333" stroke-width="1.3"/>
<g id="moths">
<defs>
<linearGradient id="g1" x1="0" y1="0" x2="1" y2="0"><stop offset="0" stop-color="#7d6a22"/><stop offset="0.35" stop-color="#c9a83a"/><stop offset="0.55" stop-color="#8c7628"/><stop offset="0.75" stop-color="#b89a3a"/><stop offset="1" stop-color="#6b4c3a"/></linearGradient>
<linearGradient id="g2" x1="0" y1="0" x2="1" y2="0.3"><stop offset="0" stop-color="#c0702e"/><stop offset="0.25" stop-color="#d08640"/><stop offset="0.5" stop-color="#b86a2c"/><stop offset="0.75" stop-color="#c87a38"/><stop offset="1" stop-color="#9a5226"/></linearGradient>
<linearGradient id="g3" x1="0" y1="1" x2="1" y2="0"><stop offset="0" stop-color="#2a2422"/><stop offset="0.3" stop-color="#302826"/><stop offset="0.38" stop-color="#e8e4e0"/><stop offset="0.45" stop-color="#3a302c"/><stop offset="1" stop-color="#6d5a4c"/></linearGradient>
<linearGradient id="g4" x1="0" y1="0" x2="1" y2="0"><stop offset="0" stop-color="#f0d25a"/><stop offset="0.6" stop-color="#e9c64c"/><stop offset="1" stop-color="#d8b040"/></linearGradient>
<linearGradient id="g6" x1="0" y1="0" x2="1" y2="1"><stop offset="0" stop-color="#e6ece6"/><stop offset="0.5" stop-color="#c9d3c9"/><stop offset="1" stop-color="#9ea89c"/></linearGradient>
<linearGradient id="g7" x1="0" y1="0" x2="1" y2="1"><stop offset="0" stop-color="#2a2470"/><stop offset="0.5" stop-color="#3c3cb4"/><stop offset="1" stop-color="#2e2a80"/></linearGradient>
<linearGradient id="g8" x1="0" y1="0" x2="1" y2="0"><stop offset="0" stop-color="#b02660"/><stop offset="0.3" stop-color="#5a4cb0"/><stop offset="0.5" stop-color="#d0245a"/><stop offset="0.75" stop-color="#5048b0"/><stop offset="1" stop-color="#c8245a"/></linearGradient>
<linearGradient id="g9" x1="0" y1="0" x2="0" y2="1"><stop offset="0" stop-color="#d8d8dc"/><stop offset="0.5" stop-color="#9a9aa0"/><stop offset="1" stop-color="#50505a"/></linearGradient>
<linearGradient id="g10" x1="0" y1="0" x2="1" y2="0"><stop offset="0" stop-color="#6a4c3c"/><stop offset="0.5" stop-color="#7e604e"/><stop offset="1" stop-color="#5a4032"/></linearGradient>
<linearGradient id="g11" x1="0" y1="0" x2="0" y2="1"><stop offset="0" stop-color="#efdfbe"/><stop offset="0.6" stop-color="#e2caa0"/><stop offset="1" stop-color="#eddcbc"/></linearGradient>
</defs>
<path d="M522.2 2.5Q524 8 525 18.5M527 13Q528 16 527.5 19" stroke="#8a7a50" stroke-width="0.7" fill="none"/>
<path d="M519.7 30.7Q522 28 524 26M523.4 33.1Q525 30 527 28M531 29V36" stroke="#7a6a40" stroke-width="0.6" fill="none"/>
<polygon points="523.4,19.6 525.9,20.2 535.7,21.5 544.3,22.7 549.2,23.3 552.2,27.0 551.0,31.3 545.5,32.5 538.1,31.3 530.8,28.8 525.9,26.4 523.4,23.3" fill="url(#g1)"/>
<path d="M535 22L537 30M542 23L544 31" stroke="#e2c860" stroke-width="1.2"/>
<path d="M538 54V65M550 51.5L551 63.8M553 50Q556 52 558 51" stroke="#b08050" stroke-width="0.6" fill="none"/>
<polygon points="517.3,41.7 523.4,39.9 529.5,41.7 536.9,42.3 544.3,39.3 548.0,40.5 552.9,45.4 554.7,49.1 551.6,51.5 545.5,52.8 535.7,54.0 525.9,55.2 519.7,56.4 516.7,52.8 516.0,46.6" fill="url(#g2)"/>
<g fill="#f2c890" opacity="0.85"><circle cx="529" cy="48" r="1.5"/><circle cx="534" cy="46" r="1.2"/><circle cx="538" cy="49" r="1.3"/><circle cx="543" cy="45" r="1.1"/><circle cx="532" cy="52" r="1"/><circle cx="547" cy="48" r="1"/><circle cx="523" cy="50" r="1"/></g><path d="M518 43Q517 50 520 56" stroke="#8a4420" stroke-width="1" fill="none"/>
<path d="M539.4 63.7L540.6 78.4Q546 79 551.6 84.5M534.4 90.7L532.6 99.3M538 88.2L541.8 96.2" stroke="#4a4040" stroke-width="0.7" fill="none"/>
<polygon points="537.5,78.4 529.5,80.2 521.0,85.2 513.0,90.0 514.8,92.5 516.7,95.0 516.7,99.3 519.7,99.9 527.1,95.6 534.4,90.1 538.7,84.5 540.0,80.2" fill="url(#g3)"/>
<polygon points="516.0,109.1 529.5,107.2 541.8,106.0 551.6,102.9 556.5,102.9 559.0,106.6 556.5,109.1 545.5,112.8 535.7,115.8 529.5,118.9 521.0,120.1 514.8,117.7 513.0,114.0" fill="url(#g4)"/>
<path d="M533 117L546 111.5L556 106" stroke="#5a4a30" stroke-width="1.2" fill="none"/><circle cx="537.5" cy="108.5" r="1" fill="#3a3020"/><circle cx="527.5" cy="113" r="0.8" fill="#3a3020"/><circle cx="555" cy="104.5" r="1.4" fill="#7a5a20"/>
<polygon points="517.7,142.0 533.3,140.6 547.5,139.2 557.4,138.5 560.2,147.0 547.5,148.4 533.3,149.1 519.2,148.4 512.8,147.0 513.5,144.0" fill="#e4e4e8" stroke="#b0b0b8" stroke-width="0.5"/>
<path d="M515 145.8L545 147.2" stroke="#8a8a94" stroke-width="1.2"/><path d="M557.4 138.5Q563 139 563 145.5L560 147" stroke="#909098" stroke-width="0.8" fill="none"/>
<g fill="#333"><circle cx="525.0" cy="142.6" r="0.55"/><circle cx="530.0" cy="143.2" r="0.55"/><circle cx="535.0" cy="142.0" r="0.55"/><circle cx="540.0" cy="142.8" r="0.55"/><circle cx="545.0" cy="141.6" r="0.55"/><circle cx="550.0" cy="142.5" r="0.55"/><circle cx="533.0" cy="145.0" r="0.55"/><circle cx="543.0" cy="144.5" r="0.55"/><circle cx="522.0" cy="144.5" r="0.55"/></g>
<path d="M537.6 164L558.8 175.3" stroke="#b0b8b0" stroke-width="0.6"/>
<polygon points="513.5,184.5 522.0,179.6 533.3,176.7 547.5,174.6 556.0,175.3 560.2,176.7 556.0,181.0 547.5,186.7 537.6,192.3 527.7,196.6 520.6,199.4 517.7,196.6 516.3,189.5" fill="url(#g6)"/>
<circle cx="529" cy="182.6" r="3.3" fill="#b83a22"/><path d="M520 196L532 189L545 182" stroke="#8a948a" stroke-width="1"/><circle cx="514.6" cy="185.3" r="1.6" fill="#1a1a1a"/>
<path d="M531.3 209.2L535.6 222M547.4 216L536 222.5" stroke="#4a4040" stroke-width="0.7"/>
<polygon points="511.0,215.2 518.6,215.5 527.1,219.4 533.0,223.7 532.2,235.6 530.5,244.0 525.4,243.2 520.3,239.0 516.9,232.2 513.5,223.7" fill="url(#g7)"/>
<polygon points="533.0,223.7 542.4,225.4 550.8,227.1 559.3,227.9 561.0,230.5 557.6,234.7 550.8,238.1 542.4,242.4 535.6,244.9 532.2,244.0" fill="url(#g7)"/>
<path d="M519 222L526 234M540 235L552 230" stroke="#e8e8f4" stroke-width="1.1"/><path d="M535.6 222L532.2 244" stroke="#5a3a30" stroke-width="2.6"/>
<path d="M511.8 255.9L527.1 267.8M516.9 250L527.1 267.8M528 271L523.5 277M531 272.5L531 280M536 275L539 283" stroke="#2a2a3a" stroke-width="0.8"/>
<polygon points="530.5,267.8 539.0,268.7 549.1,272.1 555.9,276.3 561.0,281.4 561.9,286.5 557.6,289.0 550.8,286.5 542.4,281.4 535.6,276.3 530.5,272.1" fill="url(#g8)"/>
<ellipse cx="530" cy="269.8" rx="3.2" ry="2.3" fill="#1e1e36"/>
<path d="M522.2 312V319.4M528.8 314.8Q532 320 533.4 326.7" stroke="#8a8a8a" stroke-width="0.6"/>
<polygon points="515.6,307.5 520.9,304.9 531.4,304.2 542.0,306.2 551.2,308.2 559.2,309.5 560.5,314.8 559.2,318.8 549.9,318.8 539.3,316.1 531.4,313.5 522.2,311.5 516.9,310.9" fill="url(#g9)"/>
<path d="M530 309L545 311M537 314L556 316" stroke="#3a3a42" stroke-width="1.1"/><circle cx="517.5" cy="307.5" r="1.4" fill="#2a2a2a"/>
<path d="M523.5 345V357M527.5 346.5L530 358.4M525 334.6Q526 329 530 331Q529 334 526 335" stroke="#9a8a80" stroke-width="0.6" fill="none"/>
<polygon points="519.5,338.6 526.1,336.6 538.0,337.3 548.6,339.9 559.2,341.9 559.8,345.9 558.5,350.5 548.6,351.1 538.0,347.8 527.5,345.9 520.9,343.9" fill="url(#g10)"/>
<path d="M533 340L538 345M545 343L550 348" stroke="#3a2820" stroke-width="1.4"/>
<path d="M529 363.5L536 367M545 364L539 367M537 386V392" stroke="#c8b498" stroke-width="0.6"/>
<polygon points="535.5,367.8 529.1,372.7 522.7,379.1 517.0,386.3 516.2,391.1 521.0,393.5 530.7,391.9 537.1,389.5 543.5,391.9 553.2,393.5 558.8,391.9 558.0,387.1 551.5,379.1 545.1,372.7 538.7,367.8 537.1,366.2" fill="url(#g11)"/>
<path d="M519 388L531 382M556 388L544 382M521 391.5L533 386M554 391.5L542 386" stroke="#a88258" stroke-width="1" fill="none"/><path d="M537.2 372V391" stroke="#8a7050" stroke-width="1.6" stroke-dasharray="1.2 1"/>
<path d="M532.3 398.3L536 404M543.5 400.7L539 404.5" stroke="#8a7a70" stroke-width="0.6"/>
<polygon points="529.1,408.0 524.3,414.4 519.4,422.4 516.2,430.4 517.8,433.7 525.9,432.1 533.9,430.4 537.1,428.8 540.3,430.4 548.3,432.1 556.4,433.7 558.0,430.4 554.8,422.4 549.9,414.4 545.1,408.0 537.1,404.0" fill="#3c3128"/>
<ellipse cx="537.1" cy="409" rx="4.5" ry="5" fill="#d6c2a4"/><ellipse cx="537.1" cy="421.5" rx="5" ry="5.5" fill="#c4c4c8"/>
<g fill="#e2b8ac"><circle cx="520" cy="429.5" r="2.4"/><circle cx="531" cy="428.5" r="2.2"/><circle cx="543" cy="428.5" r="2.2"/><circle cx="554" cy="429.5" r="2.4"/><circle cx="537" cy="431" r="2"/></g><g fill="#cdb89a"><ellipse cx="530" cy="410" rx="2.6" ry="3.2"/><ellipse cx="544" cy="410" rx="2.6" ry="3.2"/></g>
<path d="M516.9 449.3Q522 444 531 444.7L532 447Q524 449 518 451Z" fill="#403838"/><path d="M534.4 444.7Q540 442 546.9 442.5L546 445Q540 447 534.6 447.5Z" fill="#403838"/>
<polygon points="532.2,448.1 525.4,454.9 520.9,464.0 519.7,473.0 522.0,479.8 527.6,481.0 539.0,479.8 552.6,478.7 556.0,475.3 554.8,468.5 550.3,461.7 542.4,454.9 536.0,448.0" fill="#e6e2e2"/>
<g fill="#2a2424"><circle cx="527.8" cy="466.0" r="0.53"/><circle cx="541.3" cy="468.6" r="0.42"/><circle cx="519.5" cy="475.6" r="0.49"/><circle cx="527.7" cy="480.9" r="0.56"/><circle cx="549.9" cy="463.7" r="0.62"/><circle cx="524.6" cy="469.0" r="0.70"/><circle cx="538.4" cy="472.5" r="0.63"/><circle cx="521.4" cy="473.0" r="0.61"/><circle cx="551.0" cy="463.6" r="0.65"/><circle cx="551.5" cy="471.6" r="0.72"/><circle cx="533.6" cy="474.4" r="0.56"/><circle cx="553.6" cy="477.0" r="0.43"/><circle cx="542.2" cy="457.9" r="0.58"/><circle cx="533.3" cy="459.6" r="0.60"/><circle cx="540.6" cy="477.8" r="0.64"/><circle cx="553.4" cy="476.3" r="0.75"/><circle cx="543.8" cy="453.4" r="0.70"/><circle cx="554.7" cy="477.9" r="0.60"/><circle cx="545.4" cy="455.0" r="0.69"/><circle cx="540.2" cy="457.4" r="0.42"/><circle cx="550.6" cy="480.7" r="0.43"/><circle cx="548.6" cy="461.5" r="0.45"/><circle cx="529.9" cy="473.4" r="0.71"/><circle cx="520.7" cy="471.7" r="0.52"/><circle cx="551.6" cy="480.4" r="0.58"/><circle cx="521.8" cy="467.8" r="0.41"/><circle cx="526.3" cy="461.5" r="0.61"/><circle cx="554.5" cy="477.6" r="0.53"/><circle cx="536.0" cy="465.2" r="0.63"/><circle cx="541.0" cy="466.5" r="0.62"/><circle cx="535.0" cy="471.8" r="0.48"/><circle cx="530.1" cy="480.3" r="0.58"/><circle cx="539.3" cy="448.4" r="0.55"/><circle cx="540.5" cy="448.7" r="0.62"/><circle cx="542.4" cy="450.0" r="0.62"/><circle cx="536.3" cy="470.4" r="0.52"/><circle cx="545.2" cy="472.4" r="0.41"/><circle cx="521.2" cy="470.3" r="0.74"/><circle cx="528.3" cy="463.1" r="0.61"/><circle cx="530.8" cy="460.0" r="0.51"/><circle cx="532.7" cy="467.7" r="0.51"/><circle cx="533.0" cy="473.5" r="0.41"/><circle cx="540.1" cy="472.3" r="0.51"/><circle cx="527.2" cy="474.5" r="0.48"/><circle cx="525.9" cy="462.4" r="0.64"/><circle cx="531.3" cy="475.5" r="0.55"/><circle cx="531.5" cy="469.5" r="0.71"/><circle cx="535.7" cy="455.4" r="0.44"/><circle cx="538.6" cy="454.3" r="0.68"/><circle cx="529.3" cy="474.6" r="0.62"/><circle cx="548.8" cy="459.4" r="0.45"/><circle cx="529.8" cy="474.2" r="0.49"/><circle cx="531.8" cy="461.8" r="0.55"/><circle cx="534.2" cy="478.4" r="0.45"/><circle cx="519.2" cy="479.1" r="0.71"/><circle cx="554.2" cy="478.6" r="0.48"/><circle cx="546.6" cy="475.6" r="0.63"/><circle cx="538.2" cy="457.5" r="0.52"/><circle cx="540.8" cy="457.5" r="0.68"/><circle cx="520.7" cy="477.8" r="0.64"/><circle cx="553.2" cy="477.6" r="0.71"/><circle cx="540.3" cy="448.4" r="0.66"/><circle cx="543.5" cy="465.3" r="0.54"/><circle cx="553.7" cy="468.2" r="0.52"/><circle cx="528.3" cy="476.4" r="0.57"/><circle cx="547.9" cy="459.6" r="0.47"/><circle cx="538.8" cy="475.0" r="0.46"/><circle cx="548.3" cy="478.4" r="0.68"/><circle cx="542.3" cy="476.5" r="0.42"/><circle cx="529.0" cy="456.9" r="0.58"/><circle cx="534.7" cy="463.6" r="0.67"/><circle cx="521.5" cy="480.2" r="0.70"/><circle cx="530.7" cy="458.4" r="0.52"/><circle cx="542.9" cy="467.4" r="0.53"/><circle cx="526.1" cy="458.8" r="0.44"/><circle cx="539.6" cy="471.6" r="0.53"/><circle cx="532.8" cy="467.9" r="0.67"/><circle cx="533.1" cy="474.4" r="0.62"/><circle cx="535.0" cy="460.3" r="0.57"/><circle cx="545.0" cy="461.9" r="0.64"/><circle cx="536.1" cy="456.1" r="0.59"/><circle cx="534.7" cy="462.1" r="0.71"/><circle cx="552.2" cy="474.1" r="0.49"/><circle cx="536.2" cy="452.1" r="0.68"/><circle cx="543.5" cy="477.3" r="0.68"/><circle cx="543.7" cy="472.2" r="0.60"/><circle cx="522.8" cy="467.4" r="0.40"/><circle cx="524.3" cy="473.6" r="0.42"/><circle cx="519.9" cy="475.8" r="0.44"/><circle cx="550.2" cy="470.2" r="0.69"/><circle cx="547.4" cy="464.9" r="0.65"/><circle cx="522.9" cy="472.7" r="0.73"/><circle cx="539.9" cy="475.3" r="0.48"/><circle cx="541.8" cy="472.9" r="0.54"/><circle cx="532.6" cy="461.1" r="0.52"/><circle cx="534.5" cy="450.7" r="0.58"/><circle cx="544.6" cy="473.0" r="0.64"/><circle cx="538.1" cy="464.0" r="0.63"/><circle cx="522.5" cy="472.7" r="0.72"/><circle cx="538.1" cy="462.6" r="0.65"/><circle cx="526.4" cy="467.3" r="0.51"/><circle cx="527.6" cy="470.8" r="0.73"/><circle cx="529.9" cy="471.3" r="0.54"/><circle cx="550.6" cy="467.3" r="0.49"/><circle cx="536.7" cy="460.6" r="0.46"/><circle cx="532.3" cy="458.6" r="0.67"/><circle cx="524.3" cy="480.7" r="0.57"/><circle cx="541.2" cy="463.4" r="0.69"/><circle cx="549.4" cy="466.4" r="0.57"/><circle cx="545.7" cy="476.3" r="0.54"/><circle cx="546.1" cy="479.7" r="0.56"/><circle cx="545.6" cy="470.3" r="0.74"/><circle cx="525.9" cy="471.3" r="0.70"/><circle cx="534.7" cy="472.1" r="0.43"/><circle cx="522.4" cy="475.5" r="0.50"/><circle cx="532.2" cy="467.1" r="0.64"/><circle cx="535.1" cy="464.0" r="0.47"/><circle cx="540.6" cy="479.5" r="0.54"/><circle cx="539.1" cy="451.9" r="0.50"/><circle cx="543.6" cy="451.7" r="0.71"/><circle cx="547.6" cy="473.0" r="0.50"/><circle cx="544.0" cy="469.6" r="0.68"/><circle cx="528.8" cy="472.9" r="0.74"/><circle cx="543.9" cy="465.7" r="0.44"/><circle cx="537.3" cy="459.6" r="0.65"/><circle cx="544.1" cy="466.7" r="0.46"/><circle cx="542.9" cy="468.8" r="0.46"/><circle cx="551.9" cy="469.6" r="0.44"/><circle cx="531.3" cy="471.8" r="0.61"/><circle cx="539.5" cy="469.4" r="0.56"/><circle cx="530.6" cy="453.8" r="0.42"/><circle cx="545.5" cy="472.9" r="0.59"/><circle cx="546.4" cy="459.9" r="0.49"/><circle cx="533.2" cy="476.8" r="0.41"/><circle cx="537.7" cy="456.2" r="0.67"/><circle cx="532.1" cy="459.0" r="0.54"/><circle cx="539.0" cy="473.5" r="0.52"/><circle cx="523.2" cy="473.7" r="0.65"/><circle cx="534.4" cy="472.5" r="0.69"/><circle cx="546.7" cy="467.5" r="0.45"/><circle cx="533.7" cy="454.4" r="0.58"/><circle cx="540.0" cy="454.7" r="0.49"/><circle cx="548.7" cy="477.4" r="0.73"/><circle cx="533.2" cy="466.2" r="0.60"/><circle cx="542.4" cy="480.2" r="0.64"/><circle cx="530.1" cy="476.4" r="0.57"/><circle cx="541.3" cy="472.0" r="0.40"/><circle cx="547.5" cy="469.8" r="0.57"/><circle cx="538.4" cy="463.2" r="0.47"/><circle cx="538.6" cy="449.2" r="0.58"/><circle cx="542.9" cy="462.7" r="0.60"/><circle cx="554.5" cy="477.4" r="0.45"/><circle cx="548.3" cy="468.6" r="0.42"/><circle cx="532.3" cy="455.7" r="0.43"/><circle cx="538.9" cy="478.7" r="0.51"/><circle cx="551.2" cy="470.9" r="0.45"/><circle cx="550.8" cy="467.8" r="0.72"/><circle cx="545.5" cy="472.4" r="0.52"/><circle cx="548.8" cy="478.7" r="0.70"/><circle cx="535.2" cy="473.0" r="0.57"/><circle cx="525.0" cy="464.4" r="0.64"/><circle cx="538.9" cy="461.9" r="0.63"/><circle cx="530.3" cy="463.3" r="0.66"/><circle cx="533.9" cy="454.0" r="0.71"/><circle cx="545.6" cy="460.1" r="0.53"/><circle cx="538.6" cy="467.7" r="0.48"/><circle cx="536.0" cy="454.4" r="0.47"/><circle cx="525.3" cy="461.3" r="0.46"/><circle cx="525.2" cy="464.2" r="0.42"/><circle cx="534.1" cy="471.2" r="0.42"/><circle cx="533.9" cy="461.1" r="0.41"/><circle cx="525.1" cy="468.5" r="0.52"/><circle cx="545.9" cy="457.1" r="0.68"/><circle cx="536.2" cy="478.8" r="0.51"/><circle cx="528.2" cy="456.8" r="0.69"/><circle cx="542.3" cy="459.4" r="0.43"/><circle cx="544.2" cy="480.0" r="0.61"/><circle cx="543.2" cy="477.7" r="0.47"/><circle cx="548.7" cy="478.3" r="0.73"/><circle cx="541.5" cy="479.2" r="0.43"/><circle cx="529.9" cy="476.0" r="0.44"/><circle cx="533.4" cy="459.0" r="0.64"/><circle cx="546.4" cy="472.2" r="0.69"/><circle cx="539.5" cy="478.5" r="0.53"/><circle cx="534.3" cy="455.6" r="0.67"/><circle cx="536.8" cy="456.9" r="0.46"/><circle cx="545.7" cy="468.0" r="0.65"/><circle cx="533.3" cy="464.1" r="0.45"/><circle cx="536.3" cy="473.0" r="0.64"/><circle cx="550.2" cy="469.2" r="0.71"/><circle cx="552.2" cy="472.2" r="0.52"/><circle cx="532.7" cy="450.4" r="0.54"/><circle cx="540.0" cy="451.6" r="0.43"/><circle cx="543.0" cy="455.9" r="0.42"/><circle cx="524.6" cy="469.3" r="0.60"/><circle cx="539.8" cy="461.8" r="0.67"/><circle cx="541.4" cy="474.0" r="0.59"/><circle cx="521.9" cy="475.2" r="0.44"/><circle cx="519.9" cy="479.9" r="0.47"/><circle cx="536.2" cy="455.4" r="0.69"/><circle cx="541.8" cy="469.2" r="0.67"/><circle cx="541.3" cy="462.7" r="0.44"/><circle cx="549.9" cy="467.6" r="0.69"/><circle cx="526.6" cy="465.8" r="0.56"/><circle cx="531.8" cy="464.0" r="0.43"/><circle cx="539.4" cy="472.3" r="0.55"/><circle cx="543.0" cy="468.0" r="0.47"/><circle cx="532.0" cy="480.9" r="0.52"/><circle cx="534.9" cy="450.8" r="0.48"/><circle cx="525.1" cy="478.7" r="0.65"/><circle cx="551.4" cy="480.6" r="0.61"/><circle cx="534.5" cy="479.3" r="0.72"/><circle cx="547.6" cy="461.4" r="0.75"/><circle cx="522.5" cy="471.8" r="0.50"/><circle cx="538.2" cy="469.1" r="0.41"/><circle cx="546.6" cy="457.1" r="0.55"/><circle cx="531.8" cy="472.5" r="0.66"/><circle cx="530.1" cy="461.6" r="0.43"/><circle cx="524.7" cy="473.2" r="0.65"/><circle cx="555.1" cy="480.3" r="0.71"/><circle cx="532.8" cy="453.3" r="0.51"/><circle cx="536.1" cy="465.4" r="0.59"/><circle cx="532.3" cy="476.1" r="0.50"/><circle cx="536.1" cy="477.3" r="0.68"/><circle cx="530.0" cy="456.0" r="0.68"/><circle cx="538.6" cy="465.7" r="0.46"/><circle cx="547.5" cy="463.4" r="0.74"/><circle cx="548.1" cy="480.3" r="0.41"/><circle cx="535.0" cy="459.2" r="0.42"/><circle cx="539.2" cy="451.1" r="0.51"/><circle cx="528.1" cy="474.5" r="0.55"/><circle cx="534.9" cy="468.7" r="0.64"/><circle cx="552.8" cy="474.7" r="0.49"/><circle cx="524.0" cy="473.0" r="0.68"/><circle cx="537.8" cy="475.4" r="0.59"/><circle cx="529.3" cy="453.6" r="0.41"/><circle cx="542.8" cy="477.6" r="0.72"/><circle cx="536.3" cy="470.0" r="0.73"/><circle cx="549.1" cy="467.9" r="0.55"/><circle cx="538.2" cy="453.6" r="0.46"/><circle cx="544.3" cy="480.7" r="0.59"/><circle cx="534.1" cy="459.6" r="0.56"/><circle cx="548.7" cy="462.9" r="0.74"/><circle cx="538.3" cy="461.6" r="0.70"/><circle cx="549.6" cy="478.7" r="0.61"/><circle cx="539.3" cy="464.1" r="0.50"/><circle cx="545.2" cy="478.1" r="0.44"/><circle cx="543.7" cy="460.3" r="0.58"/><circle cx="552.1" cy="479.7" r="0.63"/></g>
<ellipse cx="536" cy="464" rx="2.6" ry="3" fill="#2a2222"/><ellipse cx="536" cy="468" rx="2.4" ry="1.6" fill="#f4f0f0"/>
</g>
<text x="706" y="525.6" font-size="8" font-weight="bold" text-anchor="middle" fill="#111" stroke="#111" stroke-width="0.3" letter-spacing="-0.09">Trends in Ecology &amp; Evolution</text>
</svg>
</body></html>
